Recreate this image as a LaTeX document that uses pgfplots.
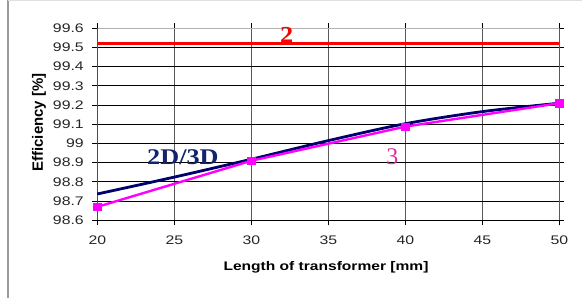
\documentclass[border=0pt]{standalone}
\usepackage{pgfplots}
\pgfplotsset{compat=1.18}
\usepackage{fontspec}
\setmainfont{Liberation Sans}
\newfontfamily\serif{Liberation Serif}
\definecolor{navy}{RGB}{0,0,110}
\definecolor{navylab}{RGB}{20,35,110}
\definecolor{mag}{RGB}{255,0,255}
\definecolor{lab3}{RGB}{215,50,165}
\begin{document}
\begin{tikzpicture}
\useasboundingbox (-97.3bp,-77.7bp) rectangle (484.7bp,220.3bp);
\draw[gray!80, line width=1.2bp] (-89.3bp,-77.7bp) -- (-89.3bp,220.3bp);
\draw[gray!25, line width=0.8bp] (-89.3bp,219.9bp) -- (484.7bp,219.9bp);
\begin{axis}[
  at={(0,0)}, anchor=south west,
  scale only axis, width=462bp, height=192bp,
  xmin=20, xmax=50, ymin=98.6, ymax=99.6,
  xtick={20,25,...,50},
  xticklabels={\scalebox{1.27}[1]{20},\scalebox{1.27}[1]{25},\scalebox{1.27}[1]{30},\scalebox{1.27}[1]{35},\scalebox{1.27}[1]{40},\scalebox{1.27}[1]{45},\scalebox{1.27}[1]{50}},
  ytick={98.6,98.7,98.8,98.9,99,99.1,99.2,99.3,99.4,99.5,99.6},
  yticklabels={\scalebox{1.27}[1]{98.6},\scalebox{1.27}[1]{98.7},\scalebox{1.27}[1]{98.8},\scalebox{1.27}[1]{98.9},\scalebox{1.27}[1]{99},\scalebox{1.27}[1]{99.1},\scalebox{1.27}[1]{99.2},\scalebox{1.27}[1]{99.3},\scalebox{1.27}[1]{99.4},\scalebox{1.27}[1]{99.5},\scalebox{1.27}[1]{99.6}},
  ticklabel style={font=\fontsize{12.5}{14}\selectfont, text=black!85},
  xticklabel style={yshift=-7bp},
  yticklabel style={xshift=-5bp},
  tick style={draw=black, line width=0.8bp},
  tick align=outside,
  major tick length=5bp,
  grid=major,
  x grid style={gray!70!black, line width=0.8bp},
  y grid style={black, line width=0.8bp},
  axis line style={draw=none},
  clip=false,
]
\draw[black, line width=0.9bp] (axis cs:20,98.6) -- (axis cs:50,98.6);
\draw[gray!70!black, line width=1.2bp] (axis cs:50,98.6) -- (axis cs:50,99.6);
\draw[gray!60, line width=0.9bp] (axis cs:20,99.6) -- (axis cs:50,99.6);
\draw[black!70, line width=0.9bp] (axis cs:20,98.6) -- (axis cs:20,99.6);
\addplot[red, line width=3.6bp, no markers] coordinates {(20,99.52) (50,99.52)};
\addplot[navy, line width=2.8bp, smooth, no markers] coordinates {
(20,98.737) (25,98.825) (30,98.918) (35,99.015) (40,99.103) (45,99.166) (50,99.21)};
\addplot[mag, line width=2.4bp, mark=square*, mark size=3.6bp, mark options={solid, fill=mag, draw=mag, line width=0.5bp}] coordinates {
(20,98.67) (30,98.91) (40,99.088) (50,99.21)};
\node[text=red, font=\serif\bfseries\fontsize{23}{26}\selectfont] at (axis cs:32.3,99.565) {\scalebox{1.15}[1]{2}};
\node[text=navylab, font=\serif\bfseries\fontsize{22.5}{26}\selectfont] at (axis cs:25.56,98.93) {\scalebox{1.17}[1]{2D/3D}};
\node[text=lab3, font=\serif\fontsize{24}{27}\selectfont] at (axis cs:39.16,98.93) {3};
\end{axis}
\node[font=\fontsize{12.5}{14}\selectfont\bfseries] at (228.7bp,-46.7bp) {\scalebox{1.25}[1]{Length of transformer [mm]}};
\node[rotate=90, font=\fontsize{15}{17}\selectfont\bfseries] at (-58.3bp,97.8bp) {Efficiency [\%]};
\end{tikzpicture}
\end{document}
